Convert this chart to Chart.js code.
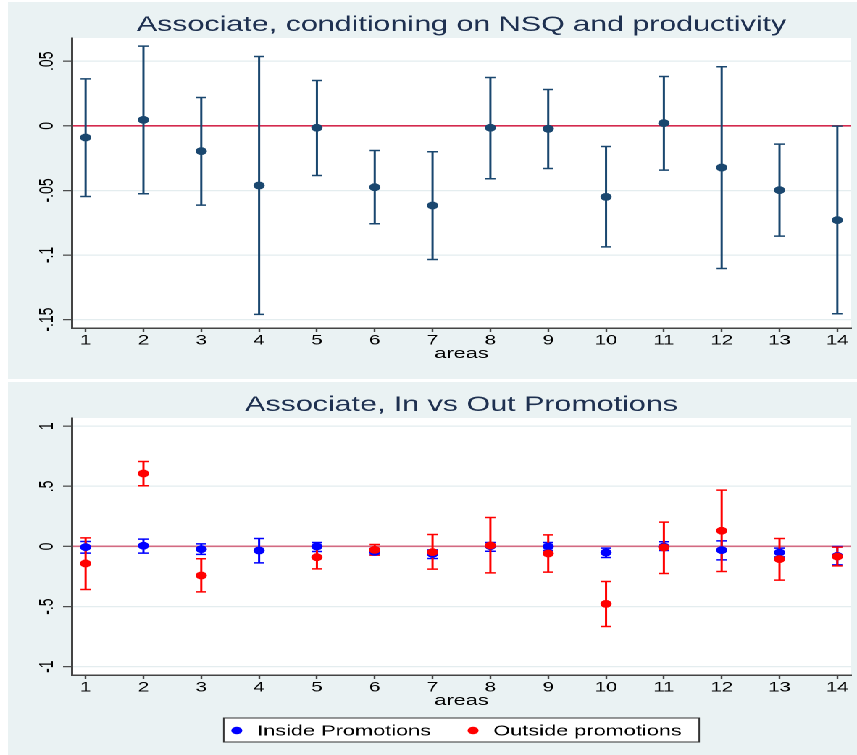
<!DOCTYPE html>
<html>
<head>
<meta charset="utf-8">
<script src="https://cdn.jsdelivr.net/npm/chart.js@4.4.1/dist/chart.umd.min.js"></script>
<style>
  html, body { margin: 0; padding: 0; background: #fff; }
  body { width: 857px; height: 755px; position: relative; overflow: hidden; }
  /* the reference graph is stretched sideways, so each panel is drawn narrow and scaled */
  .panel { position: absolute; left: 8px; width: 586px; background: #eaf2f3; transform: scaleX(1.4488); transform-origin: 0 0; }
  #p1 { top: 2px; height: 377px; }
  #p2 { top: 382px; height: 373px; }
</style>
</head>
<body>
<div class="panel" id="p1"><canvas id="topChart"></canvas></div>
<div class="panel" id="p2"><canvas id="bottomChart"></canvas></div>
<script>
// Categories
const areas = [1, 2, 3, 4, 5, 6, 7, 8, 9, 10, 11, 12, 13, 14];
const areaLabels = ['1', '2', '3', '4', '5', '6', '7', '8', '9', '10', '11', '12', '13', '14'];

// Top panel: conditioning on NSQ and productivity
const nsqEst = [-0.009, 0.0046, -0.0196, -0.0462, -0.0015, -0.0475, -0.0617, -0.0015, -0.0023, -0.055, 0.0021, -0.0323, -0.0498, -0.073];
const nsqLow = [-0.0547, -0.0526, -0.0614, -0.146, -0.0384, -0.0758, -0.1035, -0.041, -0.033, -0.0937, -0.0343, -0.1104, -0.0854, -0.1455];
const nsqHigh = [0.0364, 0.0617, 0.0219, 0.0537, 0.0351, -0.0191, -0.0201, 0.0374, 0.0281, -0.016, 0.0382, 0.0457, -0.0142, -0.0002];
const nsqTicks = [0.05, 0, -0.05, -0.1, -0.15];
const nsqTickLabels = ['.05', '0', '-.05', '-.1', '-.15'];

// Bottom panel: inside vs outside promotions (no outside estimate for area 4)
const inEst = [-0.005, 0.006, -0.022, -0.033, 0.0, -0.045, -0.061, 0.003, 0.0, -0.05, 0.0, -0.03, -0.05, -0.078];
const inLow = [-0.055, -0.055, -0.066, -0.136, -0.042, -0.07, -0.1, -0.04, -0.033, -0.092, -0.033, -0.111, -0.086, -0.153];
const inHigh = [0.042, 0.061, 0.022, 0.067, 0.033, -0.017, -0.028, 0.033, 0.033, -0.014, 0.039, 0.047, -0.014, 0.0];
const outEst = [-0.141, 0.607, -0.241, null, -0.089, -0.028, -0.047, 0.008, -0.058, -0.477, -0.008, 0.131, -0.105, -0.083];
const outLow = [-0.358, 0.505, -0.377, null, -0.186, -0.072, -0.188, -0.219, -0.213, -0.666, -0.225, -0.208, -0.28, -0.161];
const outHigh = [0.072, 0.707, -0.102, null, 0.006, 0.017, 0.1, 0.241, 0.097, -0.291, 0.203, 0.469, 0.067, -0.005];
const promoTicks = [1, 0.5, 0, -0.5, -1];
const promoTickLabels = ['1', '.5', '0', '-.5', '-1'];

const FONT = "'Liberation Sans', Arial, Helvetica, sans-serif";
const NAVY = '#1a476f';
const AXIS = '#444444';
const GRID = '#e4edef';
const CAP = 3.5;

Chart.defaults.font.family = FONT;

function points(xs, ys) {
  return xs.map((x, i) => ({ x: x, y: ys[i] })).filter(p => p.y !== null);
}

// Draws the white plot region, error bars, panel title, rotated y labels and legend
const stataLook = {
  id: 'stataLook',
  beforeDraw(chart) {
    const { ctx, chartArea: a } = chart;
    ctx.save();
    ctx.fillStyle = '#ffffff';
    ctx.fillRect(a.left, a.top, a.right - a.left, a.bottom - a.top);
    ctx.restore();
  },
  beforeDatasetsDraw(chart) {
    const { ctx, scales: { x, y } } = chart;
    ctx.save();
    ctx.lineWidth = 1.5;
    chart.data.datasets.forEach(ds => {
      if (!ds.low) return;
      ctx.strokeStyle = ds.backgroundColor;
      ds.xs.forEach((a, i) => {
        if (ds.low[i] === null) return;
        const px = x.getPixelForValue(a);
        const lo = y.getPixelForValue(ds.low[i]);
        const hi = y.getPixelForValue(ds.high[i]);
        ctx.beginPath();
        ctx.moveTo(px, lo); ctx.lineTo(px, hi);
        ctx.moveTo(px - CAP, lo); ctx.lineTo(px + CAP, lo);
        ctx.moveTo(px - CAP, hi); ctx.lineTo(px + CAP, hi);
        ctx.stroke();
      });
    });
    ctx.restore();
  },
  afterDraw(chart, args, opts) {
    const { ctx, chartArea: a, scales: { y } } = chart;
    const cx = (a.left + a.right) / 2;
    ctx.save();

    // title
    ctx.font = '21px ' + FONT;
    ctx.fillStyle = '#1e3050';
    ctx.textAlign = 'center';
    ctx.textBaseline = 'alphabetic';
    ctx.fillText(opts.title, cx, 29);

    // y tick labels, turned like Stata does
    ctx.font = '14px ' + FONT;
    ctx.fillStyle = '#000000';
    opts.yTicks.forEach((v, i) => {
      ctx.save();
      ctx.translate(31, y.getPixelForValue(v));
      ctx.rotate(-Math.PI / 2);
      ctx.fillText(opts.yLabels[i], 0, 0);
      ctx.restore();
    });

    // boxed legend under the x axis
    if (opts.legend) {
      ctx.font = '15px ' + FONT;
      const sets = chart.data.datasets;
      const widths = sets.map(ds => ctx.measureText(ds.label).width);
      const padL = 9, padR = 12, toText = 14, between = 29;
      let boxW = padL + padR + (sets.length - 1) * between;
      widths.forEach(w => { boxW += toText + w; });
      const left = cx - boxW / 2;
      const top = opts.legendTop, h = 24;
      ctx.fillStyle = '#ffffff';
      ctx.fillRect(left, top, boxW, h);
      ctx.strokeStyle = '#333333';
      ctx.lineWidth = 1;
      ctx.strokeRect(left, top, boxW, h);
      let xPos = left + padL;
      sets.forEach((ds, i) => {
        ctx.fillStyle = ds.backgroundColor;
        ctx.beginPath();
        ctx.arc(xPos, top + 12.5, 3.8, 0, Math.PI * 2);
        ctx.fill();
        ctx.fillStyle = '#000000';
        ctx.textAlign = 'left';
        ctx.fillText(ds.label, xPos + toText, top + 17.5);
        xPos += toText + widths[i] + between;
      });
    }
    ctx.restore();
  }
};

function buildOptions(cfg) {
  return {
    responsive: true,
    maintainAspectRatio: false,
    animation: false,
    devicePixelRatio: 2,
    layout: { padding: { top: 36, right: 4, left: 0, bottom: 0 } },
    plugins: {
      legend: { display: false },
      title: { display: false },
      tooltip: { enabled: false },
      stataLook: cfg.look
    },
    scales: {
      x: {
        type: 'linear',
        min: 0.76,
        max: 14.24,
        afterBuildTicks: s => { s.ticks = areas.map(v => ({ value: v })); },
        afterFit: s => { s.height = cfg.xHeight; },
        ticks: {
          callback: v => areaLabels[areas.indexOf(v)],
          color: '#000000',
          font: { size: 14 },
          padding: 0,
          maxRotation: 0,
          autoSkip: false
        },
        grid: { drawOnChartArea: false, tickColor: AXIS, tickLength: 4, tickWidth: 1.2 },
        border: { color: AXIS, width: 1.5 },
        title: { display: true, text: 'areas', color: '#000000', font: { size: 15 }, padding: { top: 0, bottom: cfg.titlePad } }
      },
      y: {
        type: 'linear',
        min: cfg.yMin,
        max: cfg.yMax,
        afterBuildTicks: s => { s.ticks = cfg.look.yTicks.map(v => ({ value: v })); },
        afterFit: s => { s.width = 44; },
        ticks: { display: false },
        grid: {
          color: c => (c.tick && c.tick.value === 0 ? cfg.zeroColor : GRID),
          lineWidth: c => (c.tick && c.tick.value === 0 ? 1.6 : 1.3),
          tickColor: AXIS,
          tickLength: 6,
          tickWidth: 1.2
        },
        border: { color: AXIS, width: 1.5 }
      }
    }
  };
}

// Top chart
new Chart(document.getElementById('topChart'), {
  type: 'scatter',
  data: {
    datasets: [{
      label: 'Estimate',
      data: points(areas, nsqEst),
      xs: areas, low: nsqLow, high: nsqHigh,
      backgroundColor: NAVY,
      borderWidth: 0,
      pointRadius: 3.9
    }]
  },
  options: buildOptions({
    yMin: -0.1565, yMax: 0.068, xHeight: 51, titlePad: 16, zeroColor: '#d42a4e',
    look: { title: 'Associate, conditioning on NSQ and productivity', yTicks: nsqTicks, yLabels: nsqTickLabels, legend: false }
  }),
  plugins: [stataLook]
});

// Bottom chart: outside points are drawn over inside points (lower order = on top)
new Chart(document.getElementById('bottomChart'), {
  type: 'scatter',
  data: {
    datasets: [{
      label: 'Inside Promotions',
      data: points(areas, inEst),
      xs: areas, low: inLow, high: inHigh,
      backgroundColor: '#0000ff',
      borderWidth: 0,
      pointRadius: 3.9,
      order: 1
    }, {
      label: 'Outside promotions',
      data: points(areas, outEst),
      xs: areas, low: outLow, high: outHigh,
      backgroundColor: '#ff0000',
      borderWidth: 0,
      pointRadius: 3.9,
      order: 0
    }]
  },
  options: buildOptions({
    yMin: -1.069, yMax: 1.069, xHeight: 80, titlePad: 45, zeroColor: '#d36a82',
    look: { title: 'Associate, In vs Out Promotions', yTicks: promoTicks, yLabels: promoTickLabels, legend: true, legendTop: 336 }
  }),
  plugins: [stataLook]
});
</script>
</body>
</html>
